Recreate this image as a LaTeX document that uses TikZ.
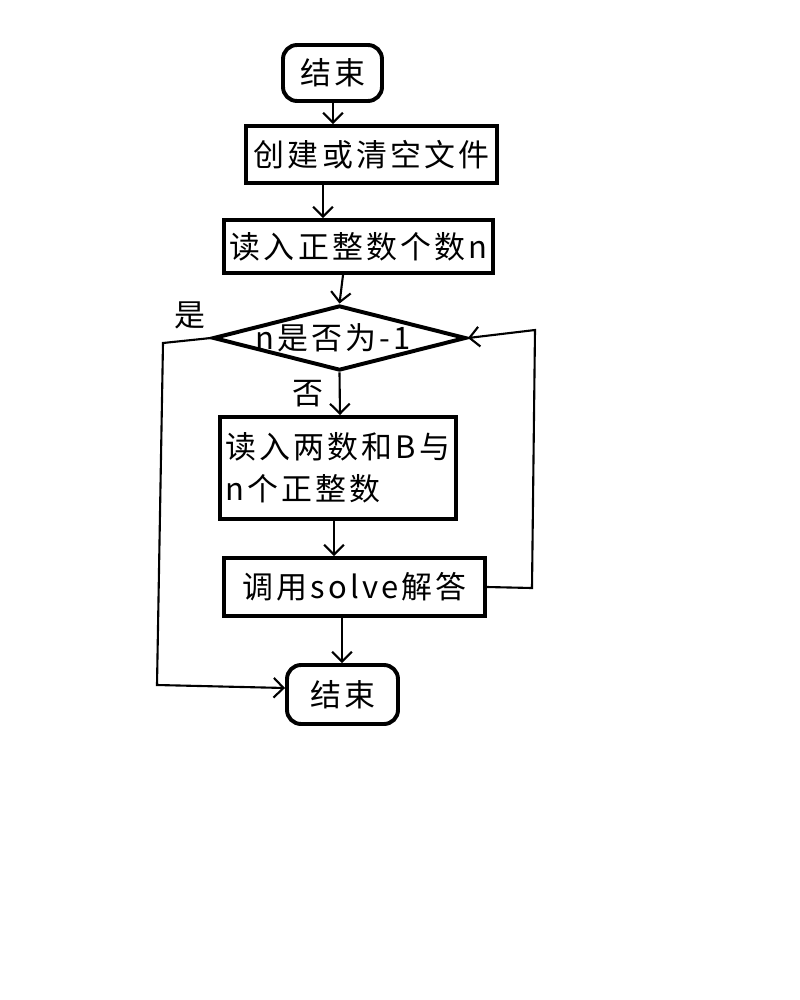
\documentclass[tikz,border=0pt]{standalone}
\usepackage{fontspec}
\setmainfont{Noto Sans CJK SC}
\newfontfamily\widefont[LetterSpace=10]{Noto Sans CJK SC}
\usetikzlibrary{arrows.meta,shapes.geometric}
\begin{document}
\begin{tikzpicture}[x=0.025cm,y=-0.025cm,
  box/.style={draw,line width=2.8pt,inner sep=0pt},
  term/.style={draw,line width=2.8pt,rounded corners=10pt,inner sep=0pt},
  conn/.style={line width=1.5pt,-{Straight Barb[length=7pt,width=14pt,line width=1.5pt]}},
  lbl/.style={font=\fontsize{22}{30}\selectfont},
  wlbl/.style={font=\widefont\fontsize{22}{30}\selectfont}]
\useasboundingbox (0,0) rectangle (800,1000);
\node[term,wlbl,minimum width=99*0.025cm,minimum height=56*0.025cm] (start) at (332.5,73) {结束};
\node[box,wlbl,minimum width=251*0.025cm,minimum height=57*0.025cm] (create) at (371.5,154.5) {创建或清空文件};
\node[box,wlbl,minimum width=269*0.025cm,minimum height=53*0.025cm] (readn) at (358.5,246.5) {读入正整数个数n};
\node[diamond,draw,line width=2.8pt,minimum width=253*0.025cm,minimum height=65*0.025cm,inner sep=0pt,aspect=3.9] (dec) at (339.5,338) {};
\node[wlbl] at (333,338) {n是否为-1};
\node[box,wlbl,minimum width=236*0.025cm,minimum height=102*0.025cm,align=left] (read2) at (338,468) {读入两数和B与\\n个正整数};
\node[box,wlbl,minimum width=261*0.025cm,minimum height=58*0.025cm] (solve) at (354.5,587) {调用solve解答};
\node[term,wlbl,minimum width=111*0.025cm,minimum height=59*0.025cm] (end) at (342.5,694.5) {结束};
\node[lbl] (yes) at (190,315) {是};
\node[lbl] (no) at (308,394) {否};
\draw[conn] (start.south -| 333,0) -- (create.north -| 333,0);
\draw[conn] (create.south -| 323,0) -- (readn.north -| 323,0);
\draw[conn] (readn.south -| 343,0) -- (dec.north);
\draw[conn] (dec.south) -- (read2.north -| 340,0);
\draw[conn] (read2.south -| 334,0) -- (solve.north -| 334,0);
\draw[conn] (solve.south -| 342,0) -- (end.north -| 342,0);
\draw[conn] (dec.west) -- (163,343) -- (157,685) -- (end.west |- 0,688);
\draw[conn] (solve.east) -- (532,588) -- (535,330) -- (dec.east);
\end{tikzpicture}
\end{document}
